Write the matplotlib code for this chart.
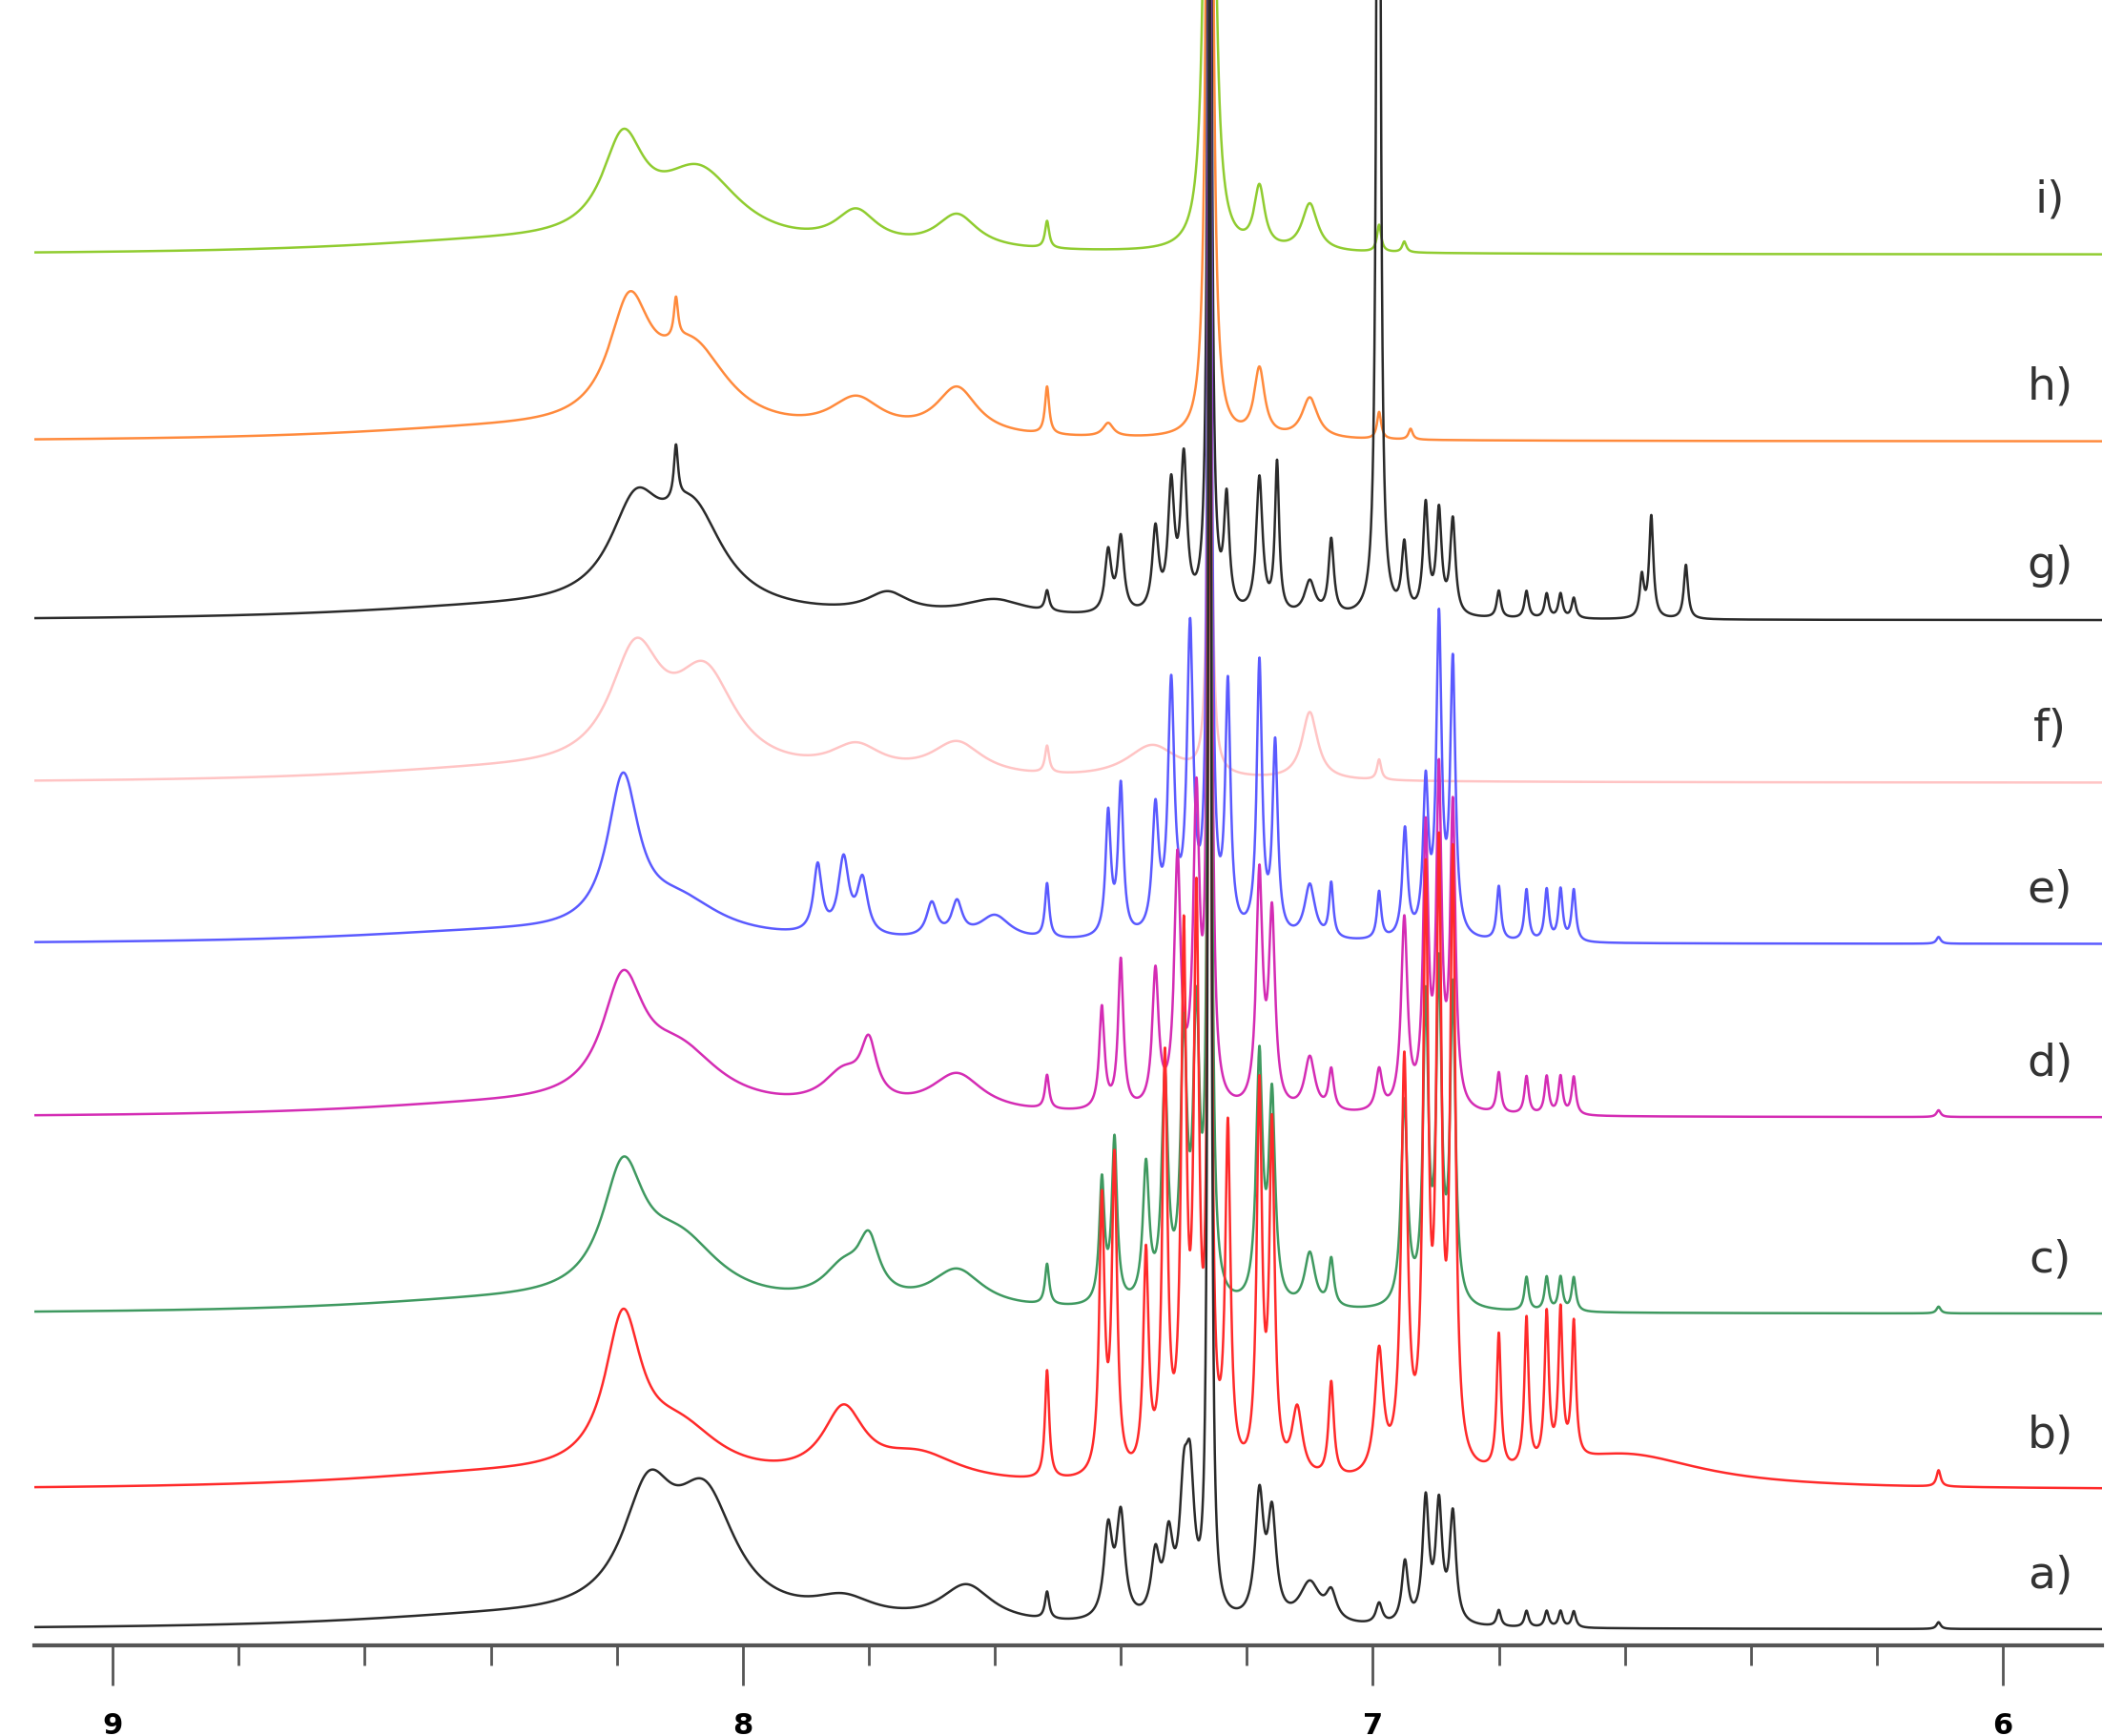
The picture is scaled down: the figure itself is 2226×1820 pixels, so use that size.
import numpy as np
import matplotlib.pyplot as plt

# stacked 1H NMR spectra, peaks: (ppm, height, half-width)
labels = ['a)', 'b)', 'c)', 'd)', 'e)', 'f)', 'g)', 'h)', 'i)']
colors = ['#2a2a2a', '#ff2a2a', '#3f9960', '#d42cb4', '#5a5aff', '#ffc4c4',
          '#2a2a2a', '#ff8a3c', '#90cc30']
offsets = [12, 115, 245, 390, 518, 637, 757, 889, 1027]

peaks_a = [(8.15, 85, .05), (8.06, 85, .06), (7.84, 15, .06), (7.645, 28, .05),
           (7.517, 20, .004), (7.42, 65, .008), (7.40, 75, .008), (7.345, 45, .008),
           (7.324, 55, .008), (7.30, 80, .008), (7.29, 90, .008), (7.259, 1400, .0025),
           (7.18, 90, .008), (7.16, 75, .008), (7.10, 30, .02), (7.066, 20, .01),
           (6.99, 15, .006), (6.949, 45, .006), (6.916, 90, .006), (6.895, 85, .006),
           (6.873, 80, .006), (6.80, 12, .004), (6.756, 12, .004), (6.724, 12, .004),
           (6.702, 12, .004), (6.681, 12, .004), (6.102, 5, .004), (8.4, 8, .3)]
peaks_b = [(8.19, 110, .035), (8.10, 35, .08), (7.84, 50, .04), (7.72, 20, .08),
           (7.517, 80, .004), (7.43, 200, .005), (7.41, 230, .005), (7.36, 160, .005),
           (7.33, 300, .005), (7.30, 380, .005), (7.28, 400, .005), (7.259, 900, .003),
           (7.23, 250, .005), (7.18, 280, .005), (7.16, 250, .005), (7.12, 50, .01),
           (7.066, 70, .005), (6.99, 90, .008), (6.95, 300, .006), (6.916, 420, .005),
           (6.895, 430, .005), (6.873, 440, .005), (6.80, 100, .004), (6.756, 110, .004),
           (6.724, 110, .004), (6.702, 110, .004), (6.681, 100, .004), (6.102, 12, .004),
           (8.4, 10, .3), (6.6, 25, .15)]
peaks_c = [(8.19, 90, .04), (8.10, 45, .08), (7.84, 25, .04), (7.80, 40, .02),
           (7.66, 28, .05), (7.517, 30, .004), (7.43, 90, .005), (7.41, 120, .005),
           (7.36, 100, .006), (7.33, 160, .006), (7.30, 190, .006), (7.28, 200, .006),
           (7.259, 1000, .003), (7.18, 180, .006), (7.16, 150, .006), (7.10, 40, .01),
           (7.066, 35, .005), (6.95, 150, .006), (6.916, 220, .005), (6.895, 240, .005),
           (6.873, 230, .005), (6.756, 25, .004), (6.724, 25, .004), (6.702, 25, .004),
           (6.681, 25, .004), (6.102, 5, .004), (8.4, 8, .3)]
peaks_d = [(8.19, 85, .04), (8.10, 40, .08), (7.84, 25, .04), (7.80, 40, .015),
           (7.66, 28, .05), (7.517, 25, .004), (7.43, 75, .005), (7.40, 110, .005),
           (7.345, 100, .006), (7.31, 180, .006), (7.28, 220, .006), (7.259, 1000, .003),
           (7.18, 170, .006), (7.16, 140, .006), (7.10, 40, .01), (7.066, 30, .005),
           (6.99, 30, .006), (6.95, 140, .006), (6.916, 200, .005), (6.895, 240, .005),
           (6.873, 220, .005), (6.80, 30, .004), (6.756, 28, .004), (6.724, 28, .004),
           (6.702, 28, .004), (6.681, 28, .004), (6.102, 5, .004), (8.4, 8, .3)]
peaks_e = [(8.19, 110, .03), (8.10, 25, .08), (7.881, 50, .008), (7.84, 55, .01),
           (7.81, 40, .01), (7.70, 25, .01), (7.66, 25, .01), (7.60, 18, .03),
           (7.517, 40, .004), (7.42, 90, .005), (7.40, 110, .005), (7.345, 90, .006),
           (7.32, 180, .006), (7.29, 220, .006), (7.259, 1000, .003), (7.23, 180, .005),
           (7.18, 200, .005), (7.155, 140, .005), (7.10, 40, .01), (7.066, 40, .004),
           (6.99, 35, .004), (6.949, 80, .005), (6.916, 110, .005), (6.895, 230, .005),
           (6.873, 200, .005), (6.80, 40, .004), (6.756, 38, .004), (6.724, 38, .004),
           (6.702, 38, .004), (6.681, 38, .004), (6.102, 5, .004), (8.4, 8, .3)]
peaks_f = [(8.17, 85, .05), (8.06, 70, .06), (7.82, 20, .05), (7.66, 25, .05),
           (7.517, 20, .004), (7.35, 25, .05), (7.259, 600, .003), (7.10, 50, .015),
           (6.99, 15, .004), (8.4, 8, .3)]
peaks_g = [(8.17, 70, .05), (8.08, 70, .06), (8.106, 40, .004), (7.77, 15, .04),
           (7.517, 15, .004), (7.60, 12, .06), (7.42, 45, .006), (7.40, 55, .006),
           (7.345, 60, .006), (7.32, 90, .006), (7.30, 110, .006), (7.259, 1000, .003),
           (7.232, 80, .005), (7.18, 100, .006), (7.152, 110, .004), (7.10, 25, .01),
           (7.066, 55, .005), (6.991, 1100, .003), (6.95, 50, .005), (6.916, 80, .005),
           (6.895, 75, .005), (6.873, 70, .005), (6.80, 20, .004), (6.756, 20, .004),
           (6.724, 18, .004), (6.702, 18, .004), (6.681, 15, .004), (6.573, 30, .004),
           (6.558, 75, .004), (6.503, 40, .004), (8.4, 8, .3)]
peaks_h = [(8.18, 85, .04), (8.08, 60, .07), (8.106, 30, .004), (7.82, 25, .05),
           (7.66, 35, .04), (7.517, 35, .004), (7.42, 10, .01), (7.259, 1200, .004),
           (7.18, 50, .01), (7.10, 30, .015), (6.99, 20, .004), (6.94, 8, .004),
           (8.4, 8, .3)]
peaks_i = [(8.19, 70, .04), (8.07, 55, .08), (7.82, 25, .04), (7.66, 25, .04),
           (7.517, 20, .004), (7.259, 1200, .005), (7.18, 45, .01), (7.10, 35, .015),
           (6.99, 20, .004), (6.95, 8, .004), (8.4, 8, .3)]
all_peaks = [peaks_a, peaks_b, peaks_c, peaks_d, peaks_e, peaks_f, peaks_g, peaks_h, peaks_i]

ppm = np.linspace(5.843, 9.125, 10000)

def spectrum(peaks):
    y = np.zeros_like(ppm)
    for c, h, w in peaks:
        y += h * w**2 / ((ppm - c)**2 + w**2)
    return y

fig = plt.figure(figsize=(22.26, 18.2), dpi=100)
ax = fig.add_axes([0.016, 0.052, 0.974, 0.948])
for i in range(8, -1, -1):
    ax.plot(ppm, spectrum(all_peaks[i]) + offsets[i], color=colors[i], lw=1.8)
    ax.text(5.925, offsets[i] + 40, labels[i], fontsize=34, ha='center', va='center',
            color='#333333')

ax.set_xlim(9.125, 5.843)
ax.set_ylim(0, 1215)
for s in ['top', 'left', 'right']:
    ax.spines[s].set_visible(False)
ax.spines['bottom'].set_linewidth(3)
ax.spines['bottom'].set_color('#555555')
ax.set_yticks([])
ax.set_xticks([9, 8, 7, 6])
ax.set_xticks(np.arange(6.2, 9.0, 0.2), minor=True)
ax.tick_params(axis='x', which='major', length=30, width=2, direction='out',
               labelsize=22, color='#555555', pad=20)
ax.tick_params(axis='x', which='minor', length=15, width=2, direction='out', color='#555555')
for t in ax.get_xticklabels():
    t.set_fontweight('bold')

fig.savefig('out.png', dpi=100)
